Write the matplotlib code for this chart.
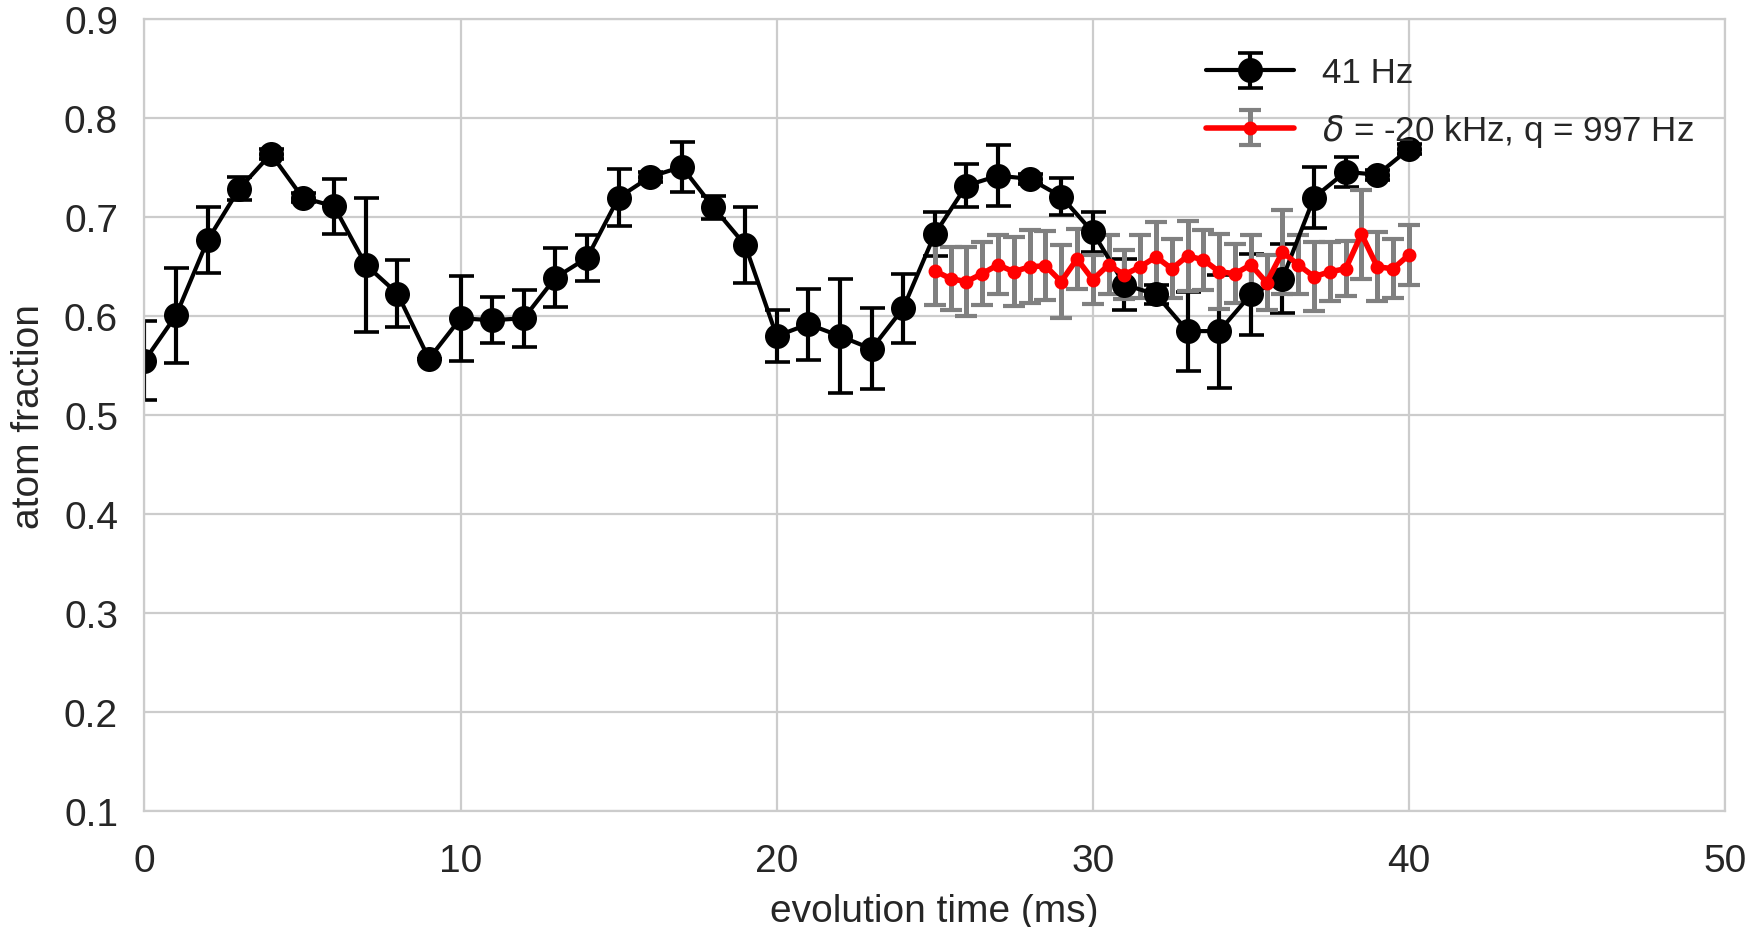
import numpy as np
import matplotlib
matplotlib.use('Agg')
import matplotlib.pyplot as plt
import seaborn as sns

# 41 Hz data (black)
t_black = list(range(0, 41))
y_black = [0.555, 0.601, 0.677, 0.729, 0.764, 0.720, 0.711, 0.652, 0.623, 0.557,
           0.598, 0.596, 0.598, 0.639, 0.659, 0.720, 0.741, 0.751, 0.710, 0.672,
           0.580, 0.592, 0.580, 0.567, 0.608, 0.683, 0.732, 0.742, 0.739, 0.721,
           0.685, 0.632, 0.622, 0.585, 0.585, 0.622, 0.638, 0.720, 0.746, 0.743,
           0.769]
e_black = [0.040, 0.048, 0.033, 0.012, 0.005, 0.005, 0.028, 0.068, 0.034, 0.000,
           0.043, 0.023, 0.029, 0.030, 0.023, 0.029, 0.005, 0.025, 0.012, 0.038,
           0.026, 0.036, 0.058, 0.041, 0.035, 0.022, 0.022, 0.031, 0.005, 0.019,
           0.020, 0.026, 0.010, 0.040, 0.057, 0.041, 0.035, 0.031, 0.015, 0.005,
           0.005]

# delta = -20 kHz, q = 997 Hz (red, grey error bars)
t_red = [25.0, 25.5, 26.0, 26.5, 27.0, 27.5, 28.0, 28.5, 29.0, 29.5, 30.0,
         30.5, 31.0, 31.5, 32.0, 32.5, 33.0, 33.5, 34.0, 34.5, 35.0, 35.5,
         36.0, 36.5, 37.0, 37.5, 38.0, 38.5, 39.0, 39.5, 40.0]
y_red = [0.646, 0.638, 0.635, 0.643, 0.652, 0.645, 0.650, 0.651, 0.635, 0.658,
         0.637, 0.652, 0.642, 0.650, 0.660, 0.648, 0.661, 0.657, 0.645, 0.643,
         0.652, 0.634, 0.665, 0.652, 0.640, 0.645, 0.648, 0.683, 0.650, 0.648,
         0.662]
e_red = [0.035, 0.032, 0.035, 0.032, 0.030, 0.035, 0.037, 0.035, 0.037, 0.030,
         0.025, 0.030, 0.025, 0.032, 0.035, 0.030, 0.035, 0.030, 0.038, 0.030,
         0.030, 0.028, 0.042, 0.030, 0.035, 0.030, 0.028, 0.045, 0.035, 0.030,
         0.030]

sns.set_style('whitegrid')
plt.rcParams['font.family'] = ['Liberation Sans', 'DejaVu Sans']

fig = plt.figure(figsize=(8.81, 4.64), dpi=200)
ax = fig.add_axes([0.082, 0.125, 0.897, 0.853])

ax.errorbar(t_black, y_black, yerr=e_black, color='black', marker='o',
            markersize=8, linewidth=1.5, elinewidth=1.5, capsize=4.5,
            capthick=1.3, label='41 Hz')
ax.errorbar(t_red, y_red, yerr=e_red, color='red', ecolor='gray', marker='o',
            markersize=4, linewidth=2, elinewidth=1.8, capsize=4,
            capthick=1.5, label=r'$\delta$ = -20 kHz, q = 997 Hz')

ax.set_xlim(0, 50)
ax.set_ylim(0.1, 0.9)
ax.set_xticks([0, 10, 20, 30, 40, 50])
ax.set_yticks([0.1, 0.2, 0.3, 0.4, 0.5, 0.6, 0.7, 0.8, 0.9])
ax.tick_params(axis='x', labelsize=14, colors='.15', pad=8)
ax.tick_params(axis='y', labelsize=14, colors='.15', pad=6)
ax.set_xlabel('evolution time (ms)', fontsize=14, color='.15', labelpad=5)
ax.set_ylabel('atom fraction', fontsize=14, color='.15', labelpad=6)

ax.legend(loc='upper right', fontsize=12.6, frameon=False, handlelength=2.5,
          labelspacing=0.65, bbox_to_anchor=(1.0, 0.993))

fig.savefig('out.png', dpi=200)
